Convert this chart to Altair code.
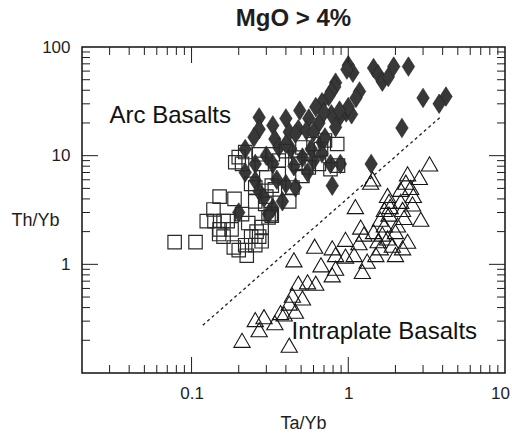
import altair as alt
import pandas as pd

# ---- data ----
SQ_X = [0.078, 0.106, 0.151, 0.138, 0.125, 0.188, 0.16, 0.151, 0.18, 0.16, 0.186, 0.2, 0.225,
        0.24, 0.27, 0.28, 0.21, 0.23, 0.255, 0.295, 0.32, 0.31, 0.255, 0.325, 0.44, 0.21, 0.2,
        0.19, 0.22, 0.27, 0.33, 0.28, 0.36, 0.3, 0.36, 0.24, 0.30, 0.325, 0.34, 0.51, 0.6, 0.71,
        0.85, 0.48, 0.56, 0.65, 0.77, 0.86, 0.51, 0.42, 0.28, 0.255, 0.15, 0.14, 0.17, 0.4, 0.46,
        0.67, 0.26, 0.22]
SQ_Y = [1.6, 1.6, 4.2, 3.2, 2.5, 4.0, 2.5, 2.1, 2.1, 1.8, 1.43, 1.35, 1.2,
        1.8, 1.8, 2.2, 2.9, 2.4, 3.8, 3.6, 2.9, 2.7, 5.1, 5.3, 5.1, 8.4, 9.7,
        8.7, 10.8, 10.3, 10.3, 8.4, 9.0, 6.3, 6.8, 5.5, 4.2, 2.8, 4.9, 11.9, 12.8, 13.8,
        12.8, 8.4, 7.8, 8.4, 7.5, 8.1, 6.5, 3.8, 1.63, 1.5, 1.9, 2.5, 2.5, 11.0, 9.6,
        11.5, 2.0, 1.5]

DM_X = [1.0, 1.07, 1.45, 1.55, 1.65, 1.8, 1.95, 2.42, 1.18, 1.12, 0.83, 0.82, 0.78, 0.75, 0.98,
        0.68, 3.0, 4.2, 3.8, 2.2, 0.97, 0.87, 1.05, 1.0, 0.78, 0.88, 0.49, 0.56, 0.65, 0.48,
        0.40, 0.42, 0.33, 0.27, 0.27, 0.34, 0.25, 0.22, 0.54, 0.43, 0.68, 0.62, 0.7, 0.58, 0.71,
        0.6, 0.83, 0.255, 0.22, 0.255, 0.27, 0.29, 0.33, 0.36, 0.4, 0.46, 0.46, 0.38, 0.33, 0.31,
        0.2, 0.51, 0.68, 0.77, 0.79, 0.89, 1.4, 0.3, 0.45, 0.55, 0.35, 0.6, 0.4]
DM_Y = [68, 58, 64, 56, 48, 53, 66, 66, 39, 34, 47, 43, 39, 35, 62,
        31, 34, 35, 30, 18, 25, 22, 24, 28, 24, 26, 26, 22, 20, 17.5,
        22, 16.5, 19, 22.5, 17.5, 14.2, 14.8, 11.5, 17, 11.5, 13.3, 28, 25, 11.5, 14.7,
        16.4, 18.3, 8.4, 7.0, 5.9, 4.7, 4.1, 8.4, 11.9, 12.8, 15.9, 5.1, 3.8, 3.3, 2.9,
        3.0, 9.6, 10.5, 8.4, 5.3, 8.4, 8.4, 10.0, 8.0, 7.0, 6.0, 9.0, 5.5]

TR_X = [3.3, 2.39, 2.84, 2.33, 2.16, 2.5, 1.43, 1.39, 1.78, 1.82, 2.16, 2.57, 2.22, 1.7, 1.82,
        1.6, 2.27, 2.9, 2.06, 1.11, 1.2, 1.26, 1.65, 1.78, 1.91, 2.22, 2.39, 1.6, 1.5, 2.0,
        0.96, 1.17, 1.09, 0.96, 1.32, 1.23, 0.61, 0.79, 0.83, 0.67, 0.83, 0.79, 0.45, 0.48,
        0.55, 0.62, 0.44, 0.51, 0.42, 0.46, 0.39, 0.255, 0.29, 0.34, 0.27, 0.21, 0.42, 0.37,
        1.7, 1.85, 2.0, 1.45, 1.55, 2.6]
TR_Y = [8.4, 6.8, 6.3, 5.7, 4.9, 5.1, 6.1, 5.7, 4.3, 3.8, 3.8, 3.6, 3.2, 3.2, 2.9,
        2.6, 2.7, 2.6, 2.3, 3.4, 2.2, 1.9, 1.9, 1.75, 1.5, 1.42, 1.63, 1.42, 1.23, 1.23,
        1.7, 1.58, 1.23, 1.19, 1.07, 0.86, 1.47, 1.42, 1.23, 0.99, 0.92, 0.8, 1.1, 0.67,
        0.69, 0.67, 0.52, 0.49, 0.44, 0.37, 0.35, 0.31, 0.33, 0.29, 0.25, 0.2, 0.18, 0.36,
        2.3, 3.4, 2.0, 2.0, 1.65, 4.3]

LINE_X = [0.118, 3.85]
LINE_Y = [0.275, 22.5]

LABEL_TEXT = ["Arc Basalts", "Intraplate Basalts"]
LABEL_X = [0.030, 0.435]
LABEL_Y = [23, 0.24]

X_LABELS = [0.1, 1, 10]
Y_LABELS = [1, 10, 100]
X_MAJOR = [0.1, 1]
X_MINOR = [0.03, 0.04, 0.05, 0.06, 0.07, 0.08, 0.09,
           0.2, 0.3, 0.4, 0.5, 0.6, 0.7, 0.8, 0.9,
           2, 3, 4, 5, 6, 7, 8, 9]
Y_MAJOR = [1, 10]
Y_MINOR = [0.2, 0.3, 0.4, 0.5, 0.6, 0.7, 0.8, 0.9,
           2, 3, 4, 5, 6, 7, 8, 9,
           20, 30, 40, 50, 60, 70, 80, 90]

W, H = 423, 326
FONT = "Liberation Sans"
INK = "#1e1e1e"

xscale = alt.Scale(type="log", domain=[0.02, 10], nice=False)
yscale = alt.Scale(type="log", domain=[0.1, 100], nice=False)

xaxis = alt.Axis(values=X_LABELS, format="~g", title="Ta/Yb", ticks=False, tickSize=0,
                 domain=False, grid=False, labelFont=FONT, labelFontSize=17,
                 labelColor=INK, labelPadding=12, labelFlush=False, labelOverlap=False,
                 labelOffset={"condition": {"test": "datum.value >= 10", "value": -5}, "value": 0},
                 titleFont=FONT, titleFontSize=18, titleFontWeight="normal", titleColor=INK,
                 titleX=221, titleY=55, titleBaseline="alphabetic")
yaxis = alt.Axis(values=Y_LABELS, format="~g", title="Th/Yb", ticks=False, tickSize=0,
                 domain=False, grid=False, labelFont=FONT, labelFontSize=17,
                 labelColor=INK, labelPadding=12, labelFlush=False, labelOverlap=False,
                 titleFont=FONT, titleFontSize=18, titleFontWeight="normal", titleColor=INK,
                 titleAngle=0, titleX=-47, titleY=173, titleAlign="center",
                 titleBaseline="middle")


def X(field):
    return alt.X(field, type="quantitative", scale=xscale, axis=xaxis)


def Y(field):
    return alt.Y(field, type="quantitative", scale=yscale, axis=yaxis)


sq = pd.DataFrame({"x": SQ_X, "y": SQ_Y})
dm = pd.DataFrame({"x": DM_X, "y": DM_Y})
tr = pd.DataFrame({"x": TR_X, "y": TR_Y})
ln = pd.DataFrame({"x": LINE_X, "y": LINE_Y})
lb = pd.DataFrame({"t": LABEL_TEXT, "x": LABEL_X, "y": LABEL_Y})

diamonds = alt.Chart(dm).mark_point(
    shape="M0,-1L0.64,0L0,1L-0.64,0Z", filled=True, color="#383838",
    stroke="#222222", strokeWidth=0.6, size=380, opacity=1
).encode(x=X("x"), y=Y("y"))

squares = alt.Chart(sq).mark_point(
    shape="square", filled=False, color="#2a2a2a", strokeWidth=1.2, size=180, opacity=1
).encode(x=X("x"), y=Y("y"))

triangles = alt.Chart(tr).mark_point(
    shape="triangle-up", filled=False, color="#151515", strokeWidth=1.1, size=265, opacity=1
).encode(x=X("x"), y=Y("y"))

line = alt.Chart(ln).mark_line(
    color=INK, strokeDash=[3, 3], strokeWidth=1.3
).encode(x=X("x"), y=Y("y"))

labels = alt.Chart(lb).mark_text(
    align="left", baseline="middle", font=FONT, fontSize=24, color="#111111"
).encode(x=X("x"), y=Y("y"), text="t:N")


def xticks(vals, y0, y1):
    return alt.Chart(pd.DataFrame({"v": vals})).mark_rule(color=INK, strokeWidth=1).encode(
        x=X("v"), y=alt.value(y0), y2=alt.value(y1))


def yticks(vals, x0, x1):
    return alt.Chart(pd.DataFrame({"v": vals})).mark_rule(color=INK, strokeWidth=1).encode(
        y=Y("v"), x=alt.value(x0), x2=alt.value(x1))


MAJ, MIN = 16, 8
ticks = [
    xticks(X_MAJOR, H, H - MAJ), xticks(X_MINOR, H, H - MIN),
    xticks(X_MAJOR, 0, MAJ), xticks(X_MINOR, 0, MIN),
    yticks(Y_MAJOR, 0, MAJ), yticks(Y_MINOR, 0, MIN),
    yticks(Y_MAJOR, W, W - MAJ), yticks(Y_MINOR, W, W - MIN),
]

chart = alt.layer(diamonds, squares, triangles, line, labels, *ticks).properties(
    width=W, height=H,
    title=alt.TitleParams("MgO > 4%", font=FONT, fontSize=24, fontWeight="bold",
                          color=INK, anchor="middle", offset=7),
    autosize=alt.AutoSizeParams(type="none"),
    padding={"left": 82, "top": 47, "right": 7, "bottom": 60},
    background="white",
).configure_view(stroke="#111111", strokeWidth=1.5)

chart.save("out.html", embed_options={"renderer": "svg", "actions": False})
